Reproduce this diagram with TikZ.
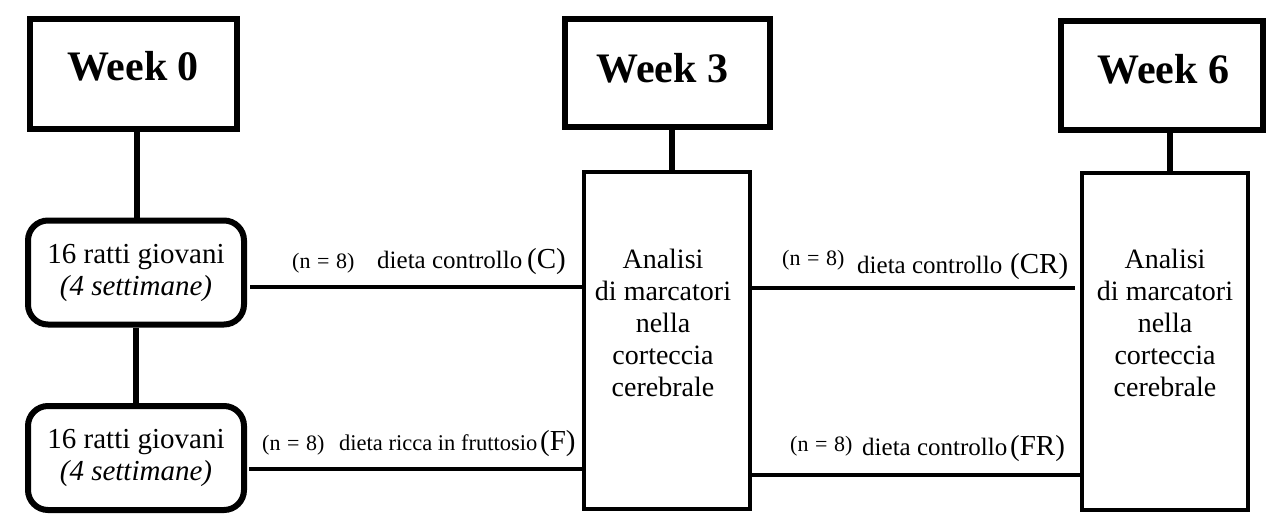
\documentclass[tikz,border=0pt]{standalone}
\usepackage{fontspec}
\setmainfont{Liberation Serif}
\newcommand{\nlab}{(n\hspace{0.3em}=\hspace{0.3em}8)}
\begin{document}
\begin{tikzpicture}[x=1pt,y=-1pt,
  weekbox/.style={draw, line width=6pt, inner sep=0pt},
  weektext/.style={anchor=base, inner sep=0pt, font=\fontsize{42}{46}\selectfont\bfseries},
  rbox/.style={draw, line width=6pt, rounded corners=20pt, minimum width=216pt, minimum height=104pt, align=center, inner sep=0pt, font=\fontsize{29}{32}\selectfont},
  tbox/.style={draw, line width=3.5pt, minimum width=166pt, minimum height=337pt, inner sep=0pt},
  atext/.style={align=center, inner sep=0pt, font=\fontsize{28}{32}\selectfont},
  conn/.style={line width=6pt},
  hline/.style={line width=3.5pt},
  lab/.style={anchor=base west, inner sep=0pt}
]
\useasboundingbox (0,0) rectangle (1266,515);

% week boxes
\node[weekbox, minimum width=207pt, minimum height=110pt] (w0) at (133.5,74) {};
\node[weekbox, minimum width=205pt, minimum height=108pt] (w3) at (667.5,73) {};
\node[weekbox, minimum width=202pt, minimum height=109pt] (w6) at (1162,75.5) {};
\node[weektext] (w0t) at (133,80) {Week 0};
\node[weektext] (w3t) at (662.5,82) {Week 3};
\node[weektext] (w6t) at (1163.5,83) {Week 6};

% rat groups
\node[rbox] (r1) at (136,272.5) {16 ratti giovani\\\textit{(4 settimane)}};
\node[rbox] (r2) at (136,458) {16 ratti giovani\\\textit{(4 settimane)}};

% analysis boxes
\node[tbox] (t3) at (667,340.5) {};
\node[tbox] (t6) at (1165,341.5) {};
\node[atext] (a3) at (663,323) {Analisi\\di marcatori\\nella\\corteccia\\cerebrale};
\node[atext] (a6) at (1165,323) {Analisi\\di marcatori\\nella\\corteccia\\cerebrale};

% y levels of the diet lines
\coordinate (yc) at (0,287);
\coordinate (yf) at (0,469);
\coordinate (ycr) at (0,288);
\coordinate (yfr) at (0,475);

% connectors
\draw[conn] ([xshift=3.5pt]w0.south) -- ([xshift=3.5pt]w0.south |- r1.north);
\draw[conn] (r1.south) -- (r2.north);
\draw[conn] ([xshift=4.5pt]w3.south) -- ([xshift=4.5pt]w3.south |- t3.north);
\draw[conn] ([xshift=8pt]w6.south) -- ([xshift=8pt]w6.south |- t6.north);
\draw[hline] ([xshift=3pt]r1.east |- yc) -- (t3.west |- yc);
\draw[hline] ([xshift=2pt]r2.east |- yf) -- (t3.west |- yf);
\draw[hline] (t3.east |- ycr) -- ([xshift=-5pt]t6.west |- ycr);
\draw[hline] (t3.east |- yfr) -- (t6.west |- yfr);

% labels
\node[lab, font=\fontsize{22}{26}\selectfont] (lc1) at (292,268) {\nlab};
\node[lab, font=\fontsize{25}{28}\selectfont] (lc2) at (377,268) {dieta controllo};
\node[lab, font=\fontsize{29}{32}\selectfont] (lc3) at (527,268) {(C)};

\node[lab, font=\fontsize{22}{26}\selectfont] (lf1) at (262,450) {\nlab};
\node[lab, font=\fontsize{22.5}{26}\selectfont] (lf2) at (339,450) {dieta ricca in fruttosio};
\node[lab, font=\fontsize{29}{32}\selectfont] (lf3) at (540,450) {(F)};

\node[lab, font=\fontsize{22}{26}\selectfont] (lcr1) at (782,265) {\nlab};
\node[lab, font=\fontsize{25}{28}\selectfont] (lcr2) at (857,273) {dieta controllo};
\node[lab, font=\fontsize{29}{32}\selectfont] (lcr3) at (1010,273) {(CR)};

\node[lab, font=\fontsize{22}{26}\selectfont] (lfr1) at (790,451) {\nlab};
\node[lab, font=\fontsize{25}{28}\selectfont] (lfr2) at (862,455) {dieta controllo};
\node[lab, font=\fontsize{29}{32}\selectfont] (lfr3) at (1010,455) {(FR)};
\end{tikzpicture}
\end{document}
